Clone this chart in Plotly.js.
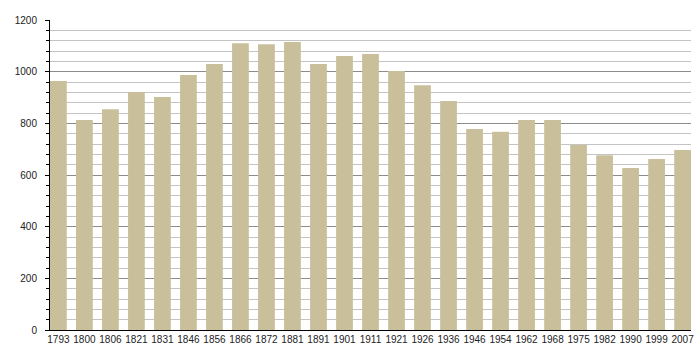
<!DOCTYPE html>
<html><head><meta charset="utf-8">
<script src="https://cdn.plot.ly/plotly-3.0.1.min.js"></script>
<style>html,body{margin:0;padding:0;background:#fff;}#chart{width:700px;height:360px;}</style>
</head><body><div id="chart"></div>
<script>
const years = ["1793","1800","1806","1821","1831","1846","1856","1866","1872","1881","1891","1901","1911","1921","1926","1936","1946","1954","1962","1968","1975","1982","1990","1999","2007"];
const population = [964,813,855,921,902,987,1030,1110,1106,1115,1030,1061,1068,1003,947,886,778,767,813,813,716,676,627,662,697];
const yTicks = [0,200,400,600,800,1000,1200];

const trace = {
  type: 'bar',
  x: years,
  y: population,
  marker: {color: '#c9c09b', line: {width: 0}},
  hoverinfo: 'x+y'
};
const layout = {
  width: 700, height: 360,
  margin: {l: 50, r: 9, t: 20, b: 30},
  paper_bgcolor: '#fff', plot_bgcolor: '#fff',
  bargap: 0.355,
  showlegend: false,
  font: {family: 'Liberation Sans, Arial, sans-serif', size: 10, color: '#222'},
  xaxis: {
    type: 'category',
    range: [-0.3225, 24.3225],
    showline: true, linecolor: '#000', linewidth: 1,
    ticks: '', showgrid: false, zeroline: false,
    tickangle: 0,
    tickfont: {size: 10, color: '#222'},
    ticklabelstandoff: 0,
    fixedrange: true
  },
  yaxis: {
    range: [0, 1200],
    tickvals: yTicks,
    ticktext: yTicks.map(String),
    showline: true, linecolor: '#000', linewidth: 1,
    ticks: 'outside', ticklen: 4, tickcolor: '#000', tickwidth: 1,
    showgrid: true, gridcolor: '#8c8c8c', gridwidth: 1,
    zeroline: false,
    minor: {dtick: 40, tick0: 0, showgrid: true, gridcolor: '#c4c4c4', gridwidth: 1, ticks: 'outside', ticklen: 3, tickcolor: '#000'},
    tickfont: {size: 10, color: '#222'},
    ticklabelstandoff: 6,
    fixedrange: true
  }
};
Plotly.newPlot('chart', [trace], layout, {displayModeBar: false, staticPlot: true});
</script></body></html>
